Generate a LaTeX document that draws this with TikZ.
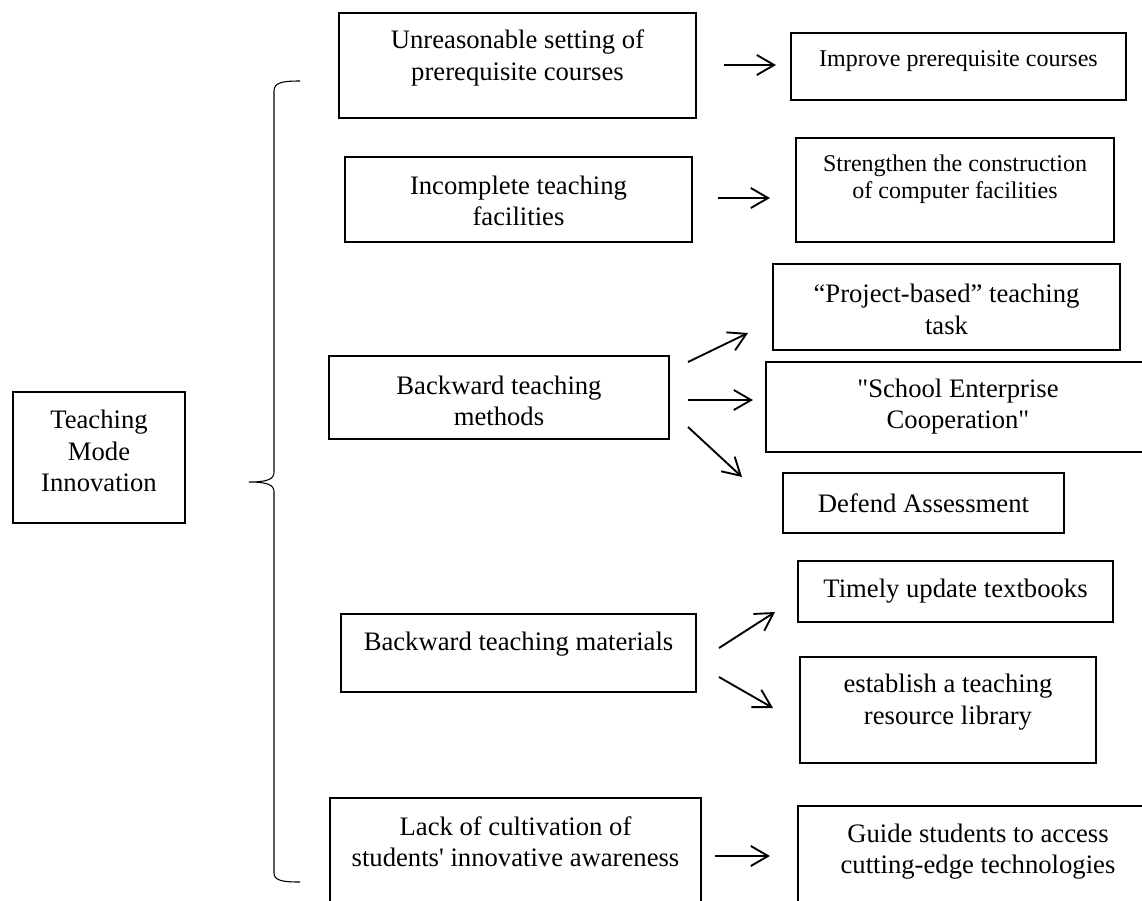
\documentclass[tikz,border=0pt]{standalone}
\usepackage{fontspec}
\setmainfont{Liberation Serif}[Ligatures=TeXOff]
\usetikzlibrary{arrows.meta,fit}
\begin{document}
\begin{tikzpicture}[x=0.75pt,y=-0.75pt,
  box/.style={draw, line width=1.5pt, inner sep=0pt},
  txt/.style={align=center, font=\fontsize{20}{23.5}\selectfont, inner sep=0pt},
  stxt/.style={align=center, font=\fontsize{18}{20.5}\selectfont, inner sep=0pt},
  arr/.style={line width=1.4pt, -{Straight Barb[length=13pt,width=15pt]}},
  brace/.style={line width=0.8pt}]
\useasboundingbox (0,0) rectangle (1142,900);
\clip (0,0) rectangle (1142,900);

% left root
\node[box, fit={(13,392) (185,523)}] (T) {};
\node[txt] (tT) at (99,451) {Teaching\\Mode\\Innovation};

% brace
\coordinate (brTop) at (300,81);
\coordinate (brTip) at (249,482);
\coordinate (brBot) at (300,882);
\draw[brace] (brTop) .. controls (284,81) and (274,82) .. (274,91)
  -- (274,472) .. controls (274,479) and (268,482) .. (brTip)
  .. controls (268,482) and (274,485) .. (274,492)
  -- (274,873) .. controls (274,881) and (284,882) .. (brBot);

% middle column
\node[box, fit={(339,13) (696,118)}] (b1) {};
\node[txt] (t1) at (517.5,58) {Unreasonable setting of\\prerequisite courses};
\node[box, fit={(345,157) (692,242)}] (b2) {};
\node[txt] (t2) at (518.5,201) {Incomplete teaching\\facilities};
\node[box, fit={(329,356) (669,439)}] (b3) {};
\node[txt] (t3) at (499,401) {Backward teaching\\methods};
\node[box, fit={(341,614) (696,692)}] (b4) {};
\node[txt] (t4) at (518.5,644) {Backward teaching materials};
\node[box, fit={(330,798) (701,940)}] (b5) {};
\node[txt] (t5) at (515.5,842) {Lack of cultivation of\\students' innovative awareness};

% right column
\node[box, fit={(791,33) (1126,100)}] (c1) {};
\node[stxt] (u1) at (958.5,61) {Improve prerequisite courses};
\node[box, fit={(796,138) (1114,242)}] (c2) {};
\node[stxt] (u2) at (955,179.5) {Strengthen the construction\\of computer facilities};
\node[box, fit={(773,264) (1120,350)}] (d1) {};
\node[txt] (v1) at (946.5,309.5) {“Project-based” teaching\\task};
\node[box, fit={(766,362) (1150,452)}] (d2) {};
\node[txt] (v2) at (958,406.5) {"School Enterprise\\Cooperation"};
\node[box, fit={(783,473) (1064,533)}] (d3) {};
\node[txt] (v3) at (923.5,503) {Defend Assessment};
\node[box, fit={(798,561) (1113,622)}] (e1) {};
\node[txt] (w1) at (955.5,591) {Timely update textbooks};
\node[box, fit={(800,657) (1096,763)}] (e2) {};
\node[txt] (w2) at (948,702) {establish a teaching\\resource library};
\node[box, fit={(798,806) (1160,940)}] (f1) {};
\node[txt] (x1) at (978,851.5) {Guide students to access\\cutting-edge technologies};

% arrows
\coordinate (a1s) at (724,65);  \coordinate (a1e) at (776,65);
\coordinate (a2s) at (718,198); \coordinate (a2e) at (770,198);
\coordinate (m1s) at (688,362); \coordinate (m1e) at (748,333);
\coordinate (m2s) at (688,400); \coordinate (m2e) at (753,400);
\coordinate (m3s) at (688,427); \coordinate (m3e) at (742,477);
\coordinate (k1s) at (719,648); \coordinate (k1e) at (775,612);
\coordinate (k2s) at (719,677); \coordinate (k2e) at (773,708);
\coordinate (g1s) at (715,856); \coordinate (g1e) at (770,856);
\draw[arr] (a1s) -- (a1e);
\draw[arr] (a2s) -- (a2e);
\draw[arr] (m1s) -- (m1e);
\draw[arr] (m2s) -- (m2e);
\draw[arr] (m3s) -- (m3e);
\draw[arr] (k1s) -- (k1e);
\draw[arr] (k2s) -- (k2e);
\draw[arr] (g1s) -- (g1e);
\end{tikzpicture}
\end{document}
